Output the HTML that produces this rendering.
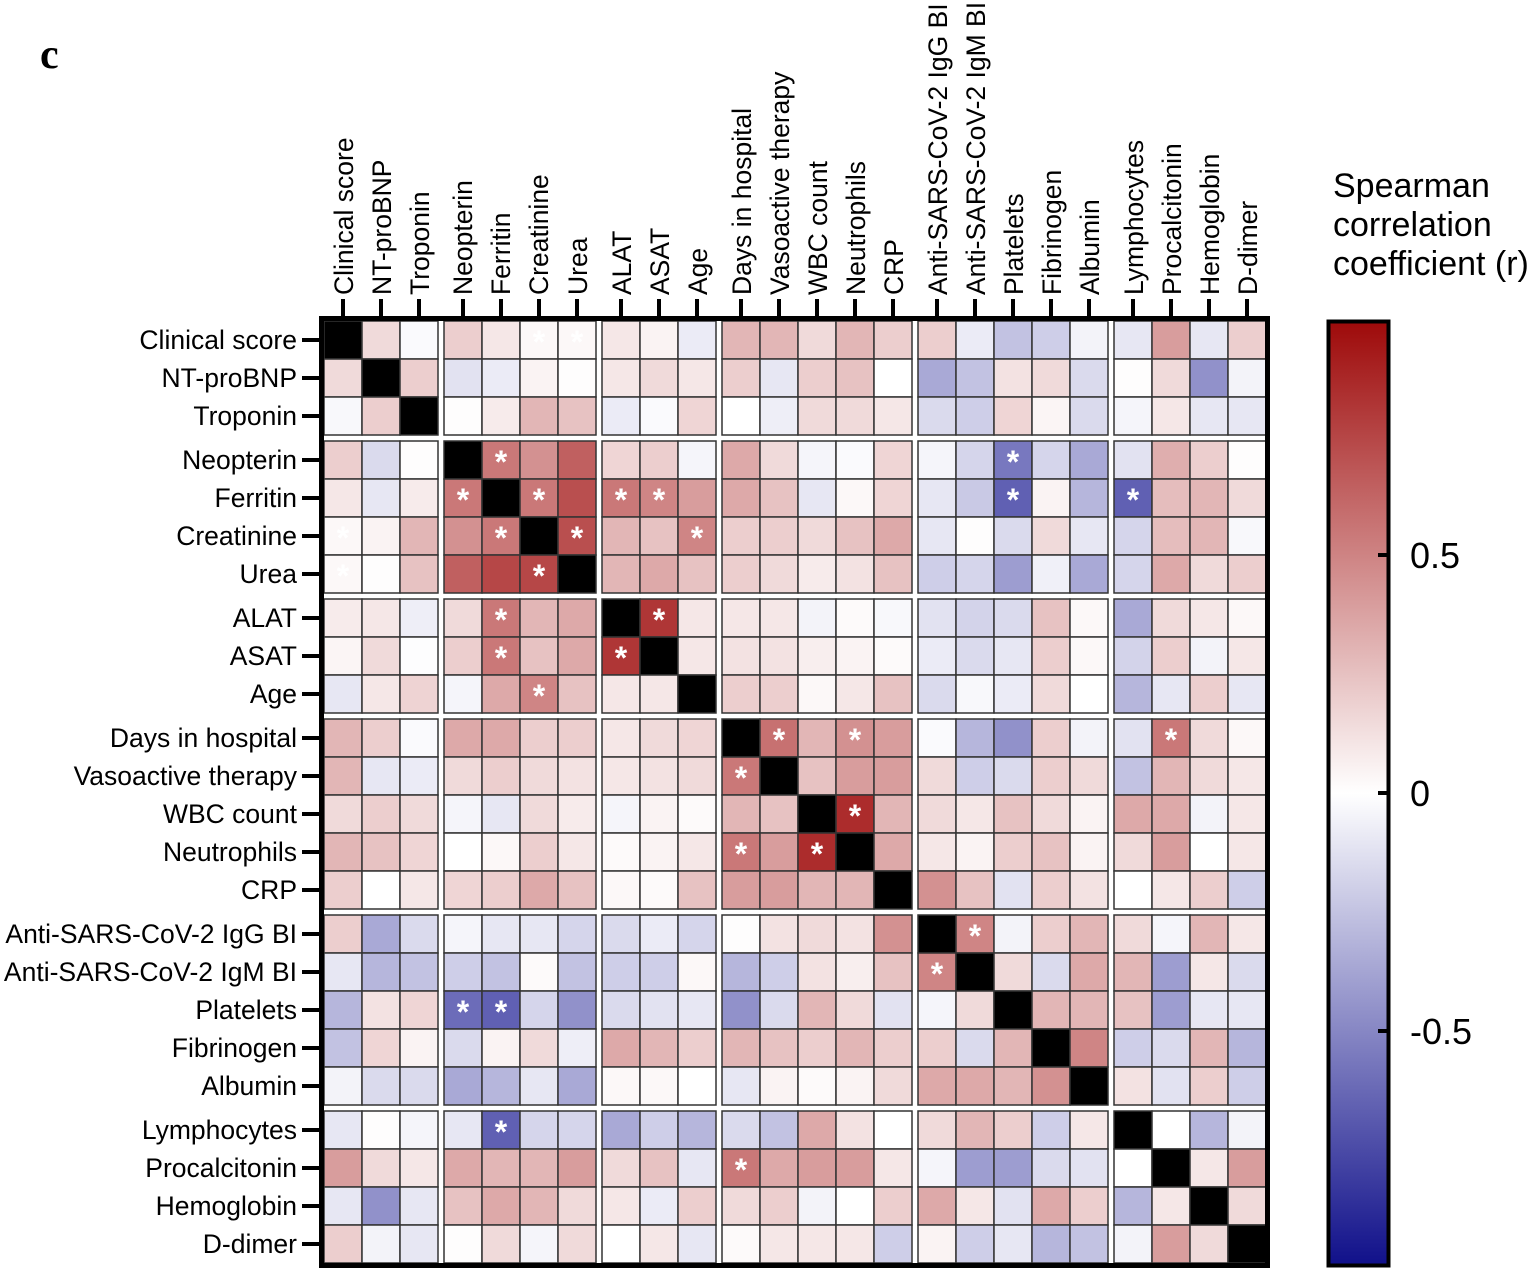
<!DOCTYPE html>
<html><head><meta charset="utf-8"><style>
html,body{margin:0;padding:0;background:#fff;}
svg{display:block;}
text{font-family:"Liberation Sans",Arial,sans-serif;fill:#000;}
</style></head><body>
<svg id="s" width="1534" height="1271" viewBox="0 0 1534 1271" xmlns="http://www.w3.org/2000/svg">
<defs><linearGradient id="cb" x1="0" y1="0" x2="0" y2="1">
<stop offset="0" stop-color="#9e0a0a"/><stop offset="0.5" stop-color="#ffffff"/><stop offset="1" stop-color="#10108a"/></linearGradient></defs>
<text x="40" y="68" style="font-family:'Liberation Serif',serif;font-weight:bold;font-size:42px">c</text>
<g id="cells"></g>
<rect x="321.5" y="318.5" width="946" height="947" fill="none" stroke="#000" stroke-width="5"/>
<g id="ticks" stroke="#000" stroke-width="4"></g>
<g font-size="26.5">
<text x="297" y="349" text-anchor="end">Clinical score</text>
<text x="297" y="387" text-anchor="end">NT-proBNP</text>
<text x="297" y="425" text-anchor="end">Troponin</text>
<text x="297" y="469" text-anchor="end">Neopterin</text>
<text x="297" y="507" text-anchor="end">Ferritin</text>
<text x="297" y="545" text-anchor="end">Creatinine</text>
<text x="297" y="583" text-anchor="end">Urea</text>
<text x="297" y="627" text-anchor="end">ALAT</text>
<text x="297" y="665" text-anchor="end">ASAT</text>
<text x="297" y="703" text-anchor="end">Age</text>
<text x="297" y="747" text-anchor="end">Days in hospital</text>
<text x="297" y="785" text-anchor="end">Vasoactive therapy</text>
<text x="297" y="823" text-anchor="end">WBC count</text>
<text x="297" y="861" text-anchor="end">Neutrophils</text>
<text x="297" y="899" text-anchor="end">CRP</text>
<text x="297" y="943" text-anchor="end">Anti-SARS-CoV-2 IgG BI</text>
<text x="297" y="981" text-anchor="end">Anti-SARS-CoV-2 IgM BI</text>
<text x="297" y="1019" text-anchor="end">Platelets</text>
<text x="297" y="1057" text-anchor="end">Fibrinogen</text>
<text x="297" y="1095" text-anchor="end">Albumin</text>
<text x="297" y="1139" text-anchor="end">Lymphocytes</text>
<text x="297" y="1177" text-anchor="end">Procalcitonin</text>
<text x="297" y="1215" text-anchor="end">Hemoglobin</text>
<text x="297" y="1253" text-anchor="end">D-dimer</text>
<text transform="translate(353,295) rotate(-90)">Clinical score</text>
<text transform="translate(391,295) rotate(-90)">NT-proBNP</text>
<text transform="translate(429,295) rotate(-90)">Troponin</text>
<text transform="translate(472,295) rotate(-90)">Neopterin</text>
<text transform="translate(510,295) rotate(-90)">Ferritin</text>
<text transform="translate(548,295) rotate(-90)">Creatinine</text>
<text transform="translate(587,295) rotate(-90)">Urea</text>
<text transform="translate(631,295) rotate(-90)">ALAT</text>
<text transform="translate(669,295) rotate(-90)">ASAT</text>
<text transform="translate(707,295) rotate(-90)">Age</text>
<text transform="translate(751,295) rotate(-90)">Days in hospital</text>
<text transform="translate(789,295) rotate(-90)">Vasoactive therapy</text>
<text transform="translate(827,295) rotate(-90)">WBC count</text>
<text transform="translate(865,295) rotate(-90)">Neutrophils</text>
<text transform="translate(903,295) rotate(-90)">CRP</text>
<text transform="translate(947,295) rotate(-90)">Anti-SARS-CoV-2 IgG BI</text>
<text transform="translate(985,295) rotate(-90)">Anti-SARS-CoV-2 IgM BI</text>
<text transform="translate(1023,295) rotate(-90)">Platelets</text>
<text transform="translate(1061,295) rotate(-90)">Fibrinogen</text>
<text transform="translate(1099,295) rotate(-90)">Albumin</text>
<text transform="translate(1143,295) rotate(-90)">Lymphocytes</text>
<text transform="translate(1181,295) rotate(-90)">Procalcitonin</text>
<text transform="translate(1219,295) rotate(-90)">Hemoglobin</text>
<text transform="translate(1257,295) rotate(-90)">D-dimer</text>
</g>
<g font-size="34">
<text x="1333" y="197">Spearman</text>
<text x="1333" y="236">correlation</text>
<text x="1333" y="275">coefficient (r)</text>
</g>
<rect x="1328.5" y="321.5" width="60" height="944" fill="url(#cb)" stroke="#000" stroke-width="4"/>
<g stroke="#000" stroke-width="4">
<line x1="1378" y1="555" x2="1390" y2="555"/><line x1="1378" y1="793" x2="1390" y2="793"/><line x1="1378" y1="1031" x2="1390" y2="1031"/>
</g>
<g font-size="36">
<text x="1410" y="568">0.5</text>
<text x="1410" y="806">0</text>
<text x="1410" y="1044">-0.5</text>
</g>
</svg>
<script>
var M=[
[9,.15,-.02,.2,.1,.03,.03,.1,.05,-.08,.3,.3,.15,.3,.2,.2,-.08,-.25,-.2,-.05,-.1,.4,-.1,.2],
[.15,9,.2,-.12,-.08,.05,.01,.1,.15,.1,.2,-.1,.2,.25,0,-.35,-.25,.12,.15,-.15,.01,.15,-.45,-.05],
[-.03,.2,9,.01,.08,.3,.25,-.08,-.02,.17,0,-.07,.15,.15,.1,-.15,-.2,.17,.04,-.15,-.04,.1,-.1,-.1],
[.2,-.15,.01,9,.55,.45,.65,.17,.2,-.04,.35,.15,-.04,-.02,.17,-.04,-.17,-.55,-.17,-.35,-.12,.33,.2,.01],
[.1,-.1,.08,.55,9,.55,.72,.55,.5,.4,.35,.25,-.1,.03,.17,-.1,-.22,-.65,.05,-.3,-.65,.27,.3,.15],
[.03,.05,.3,.45,.55,9,.72,.3,.25,.5,.2,.2,.15,.25,.35,-.1,.01,-.15,.15,-.1,-.17,.27,.3,-.03],
[.03,.01,.25,.65,.75,.75,9,.3,.35,.25,.2,.15,.08,.12,.25,-.2,-.17,-.4,-.06,-.35,-.17,.35,.15,.2],
[.08,.1,-.07,.15,.55,.3,.35,9,.82,.1,.1,.1,-.05,.02,-.03,-.12,-.18,-.15,.25,.03,-.35,.15,.1,.03],
[.04,.15,-.01,.2,.55,.25,.35,.82,9,.1,.12,.12,.07,.05,.02,-.08,-.15,-.1,.2,.03,-.18,.2,-.05,.1],
[-.1,.1,.18,-.04,.35,.5,.25,.1,.1,9,.2,.2,.03,.1,.25,-.15,-.03,-.08,.15,0,-.3,-.1,.2,-.1],
[.3,.2,-.02,.35,.35,.2,.2,.1,.15,.17,9,.58,.3,.45,.4,-.02,-.3,-.45,.2,-.05,-.12,.55,.15,.03],
[.3,-.1,-.08,.15,.2,.15,.12,.1,.12,.15,.55,9,.25,.4,.4,.15,-.2,-.15,.2,.15,-.25,.3,.15,.1],
[.15,.2,.15,-.04,-.1,.15,.08,-.04,.05,.02,.3,.25,9,.86,.3,.15,.1,.25,.15,.05,.35,.35,-.05,.1],
[.3,.25,.17,0,.03,.2,.1,.02,.05,.1,.55,.4,.86,9,.35,.1,.05,.2,.25,.05,.15,.4,0,.1],
[.2,0,.1,.17,.2,.35,.25,.03,.02,.25,.4,.4,.3,.3,9,.45,.25,-.12,.2,.12,0,.1,.2,-.2],
[.2,-.35,-.15,-.04,-.1,-.1,-.17,-.15,-.08,-.17,.01,.12,.15,.12,.45,9,.5,-.05,.2,.3,.15,-.04,.3,.1],
[-.1,-.3,-.25,-.2,-.25,.02,-.25,-.2,-.2,.03,-.3,-.2,.12,.07,.25,.5,9,.15,-.15,.35,.3,-.4,.1,-.15],
[-.3,.12,.17,-.6,-.65,-.17,-.45,-.15,-.12,-.1,-.45,-.15,.3,.15,-.12,-.04,.15,9,.3,.3,.25,-.4,-.1,-.1],
[-.25,.17,.05,-.15,.05,.15,-.07,.35,.3,.2,.3,.25,.2,.3,.2,.2,-.15,.3,9,.5,-.2,-.15,.3,-.3],
[-.05,-.15,-.15,-.35,-.3,-.1,-.35,.03,.03,0,-.1,.05,.02,.05,.15,.35,.35,.3,.45,9,.12,-.12,.2,-.2],
[-.1,.01,-.04,-.1,-.65,-.17,-.17,-.35,-.2,-.3,-.15,-.25,.35,.12,0,.15,.3,.2,-.2,.1,9,0,-.3,-.05],
[.4,.15,.1,.35,.3,.3,.4,.15,.25,-.1,.55,.35,.4,.4,.1,-.04,-.4,-.4,-.15,-.12,0,9,.1,.4],
[-.1,-.45,-.1,.25,.35,.3,.15,.1,-.08,.2,.15,.2,-.05,0,.2,.35,.1,-.12,.35,.2,-.3,.1,9,.15],
[.2,-.05,-.1,.01,.15,-.04,.15,0,.1,-.1,.02,.1,.1,.1,-.2,.05,-.2,-.1,-.3,-.25,-.05,.4,.15,9]];
var S=[[0,5],[0,6],[3,4],[4,3],[4,5],[4,7],[4,8],[5,0],[5,4],[5,6],[5,9],[6,0],[6,5],[7,4],[7,8],[8,4],[8,7],[9,5],[10,11],[10,13],[10,21],[11,10],[12,13],[13,10],[13,12],[3,17],[4,17],[4,20],[15,16],[16,15],[17,3],[17,4],[20,4],[21,10]];
var G=[0,0,0,1,1,1,1,2,2,2,3,3,3,3,3,4,4,4,4,4,5,5,5,5];
function cx(i){return 343+38*i+6*G[i];}function cy(i){return 340+38*i+6*G[i];}
function col(v){if(v>=9)return'#000';var r,g,b;if(v>=0){r=255-v*97;g=255-v*245;b=255-v*245;}else{var a=-v;r=255-a*245;g=255-a*245;b=255-a*117;}return'rgb('+Math.round(r)+','+Math.round(g)+','+Math.round(b)+')';}
var h='';
for(var i=0;i<24;i++)for(var j=0;j<24;j++){h+='<rect x="'+(cx(j)-19)+'" y="'+(cy(i)-19)+'" width="38" height="38" fill="'+col(M[i][j])+'" stroke="#333" stroke-width="1.5"/>';}
S.forEach(function(p){h+='<text x="'+cx(p[1])+'" y="'+(cy(p[0])+13)+'" text-anchor="middle" style="fill:#fff;font-size:32px;font-weight:bold">*</text>';});
document.getElementById('cells').innerHTML=h;
var t='';for(var k=0;k<24;k++){t+='<line x1="302" y1="'+cy(k)+'" x2="321" y2="'+cy(k)+'"/><line x1="'+cx(k)+'" y1="299" x2="'+cx(k)+'" y2="318"/>';}
document.getElementById('ticks').innerHTML=t;
</script>
</body></html>
